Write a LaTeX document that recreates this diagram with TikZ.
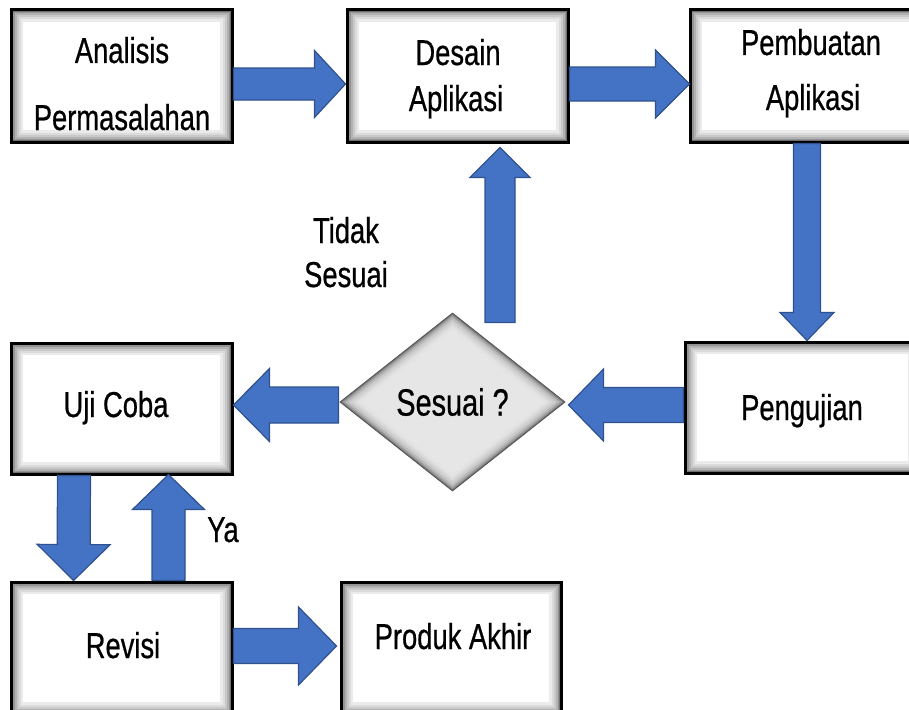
\documentclass[tikz,border=0pt]{standalone}
\usepackage{fontspec}
\newfontfamily\dinfont[FakeStretch=0.76,FakeBold=0.6]{Liberation Sans}
\usetikzlibrary{shapes.geometric,calc}

\definecolor{arrowblue}{HTML}{4472C4}
\definecolor{arrowedge}{HTML}{2F528F}
\definecolor{decisionfill}{HTML}{E6E6E6}

\tikzset{
  stepbox/.style={rectangle, draw=black, line width=3pt, fill=white, inner sep=0pt,
    path picture={
      \foreach \w/\c in {24/8, 19/14, 15/21, 11/30, 7/42, 4/56}{
        \draw[line width=\w pt, black!\c]
          (path picture bounding box.north west) rectangle
          (path picture bounding box.south east);
      }
    }},
  decision/.style={diamond, draw=black!65, line width=1pt, fill=decisionfill,
    inner sep=0pt, minimum width=225pt, minimum height=178pt,
    font=\dinfont\fontsize{38}{40}\selectfont,
    path picture={
      \foreach \w/\c in {26/11, 20/15, 15/20, 10/28, 6/38, 3/50}{
        \draw[line width=\w pt, black!\c, line join=miter]
          (path picture bounding box.north) -- (path picture bounding box.east) --
          (path picture bounding box.south) -- (path picture bounding box.west) -- cycle;
      }
    }},
  txt/.style={font=\dinfont\fontsize{36}{40}\selectfont, inner sep=0pt, anchor=base},
  flowarrow/.style={fill=arrowblue, draw=arrowedge, line width=1.2pt, line join=miter}
}

% block arrow: tail, tip, shaft half-width, head half-width, head length
\newcommand\blockarrow[5]{%
  \coordinate (ba-h) at ($(#2)!#5!(#1)$);
  \draw[flowarrow]
    ($(#1)!#3!90:(#2)$) -- ($(ba-h)!#3!90:(#2)$) -- ($(ba-h)!#4!90:(#2)$) --
    (#2) --
    ($(ba-h)!#4!-90:(#2)$) -- ($(ba-h)!#3!-90:(#2)$) -- ($(#1)!#3!-90:(#2)$) -- cycle;
}

\begin{document}
\begin{tikzpicture}[x=1pt, y=-1pt]
  \useasboundingbox (0,0) rectangle (909,709);
  \clip (0,0) rectangle (909,709);

  % process boxes
  \node[stepbox, minimum width=221pt, minimum height=132pt] (analisis)  at (121.5,76) {};
  \node[stepbox, minimum width=221pt, minimum height=132pt] (desain)    at (457.5,76) {};
  \node[stepbox, minimum width=244pt, minimum height=132pt] (pembuatan) at (812,76) {};
  \node[stepbox, minimum width=221pt, minimum height=131pt] (ujicoba)   at (121.5,408.5) {};
  \node[stepbox, minimum width=235pt, minimum height=131pt] (pengujian) at (802.5,407.5) {};
  \node[stepbox, minimum width=221pt, minimum height=132pt] (revisi)    at (121.5,648) {};
  \node[stepbox, minimum width=220pt, minimum height=132pt] (produk)    at (451,648) {};

  % decision
  \node[decision] (sesuai) at (452.5,402) {Sesuai ?};

  % box texts
  \node[txt] (t-analisis-1)  at (122,63)  {Analisis};
  \node[txt] (t-analisis-2)  at (122,130) {Permasalahan};
  \node[txt] (t-desain-1)    at (458,65)  {Desain};
  \node[txt] (t-desain-2)    at (456,111) {Aplikasi};
  \node[txt] (t-pembuatan-1) at (811,55)  {Pembuatan};
  \node[txt] (t-pembuatan-2) at (813,110) {Aplikasi};
  \node[txt] (t-ujicoba)     at (116,417) {Uji Coba};
  \node[txt] (t-pengujian)   at (802,420) {Pengujian};
  \node[txt] (t-revisi)      at (123,658) {Revisi};
  \node[txt] (t-produk)      at (453,649) {Produk Akhir};

  % branch labels
  \node[txt] (l-tidak-1) at (346,243) {Tidak};
  \node[txt] (l-tidak-2) at (346,287) {Sesuai};
  \node[txt] (l-ya)      at (223,542) {Ya};

  % arrow end points
  \coordinate (a1s) at ($(analisis.east)+(0,8)$);
  \coordinate (a1e) at ($(desain.west)+(0,8)$);
  \coordinate (a2s) at ($(desain.east)+(0,8)$);
  \coordinate (a2e) at ($(pembuatan.west)+(1,8)$);
  \coordinate (a3s) at ($(pembuatan.south)+(-5,0)$);
  \coordinate (a3e) at ($(pengujian.north)+(4.5,0)$);
  \coordinate (a4s) at ($(pengujian.west)+(0,-2.5)$);
  \coordinate (a4e) at ($(sesuai.east)+(3,3)$);
  \coordinate (a5s) at ($(sesuai.west)+(-1,3)$);
  \coordinate (a5e) at ($(ujicoba.east)+(0,-3.5)$);
  \coordinate (a6s) at ($(sesuai.north)+(47.5,10)$);
  \coordinate (a6e) at ($(desain.south)+(42.5,4)$);
  \coordinate (a7s) at ($(ujicoba.south)+(-47.5,0)$);
  \coordinate (a7e) at ($(revisi.north)+(-48,0)$);
  \coordinate (a8s) at ($(revisi.north)+(47,0)$);
  \coordinate (a8e) at ($(ujicoba.south)+(47,-1)$);
  \coordinate (a9s) at ($(revisi.east)+(0,-2)$);
  \coordinate (a9e) at ($(produk.west)+(-3,-2)$);

  % block arrows
  \blockarrow{a1s}{a1e}{16pt}{33.5pt}{31pt}
  \blockarrow{a2s}{a2e}{17pt}{34pt}{34pt}
  \blockarrow{a3s}{a3e}{13.5pt}{27pt}{28pt}
  \blockarrow{a4s}{a4e}{17.5pt}{36pt}{35pt}
  \blockarrow{a5s}{a5e}{18pt}{36.5pt}{36pt}
  \blockarrow{a6s}{a6e}{15pt}{30pt}{30pt}
  \blockarrow{a7s}{a7e}{16.5pt}{36.5pt}{36pt}
  \blockarrow{a8s}{a8e}{16.5pt}{36pt}{35pt}
  \blockarrow{a9s}{a9e}{17.5pt}{39pt}{38pt}
\end{tikzpicture}
\end{document}
